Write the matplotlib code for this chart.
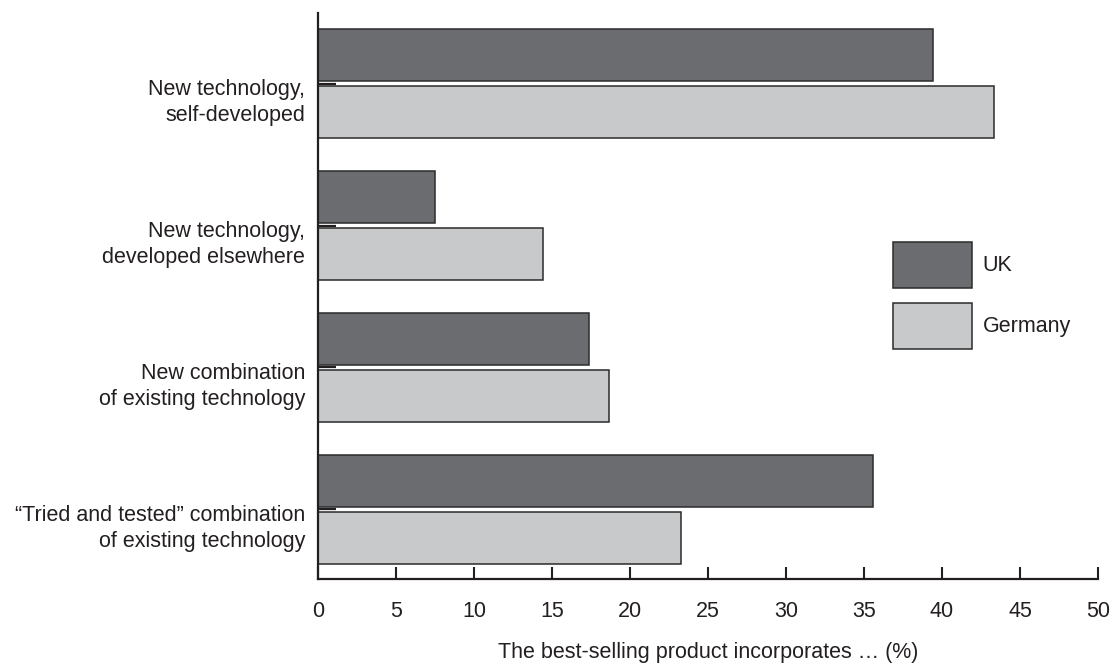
import matplotlib
matplotlib.use("Agg")
import matplotlib.pyplot as plt
import numpy as np

categories = [
    "New technology,\nself-developed",
    "New technology,\ndeveloped elsewhere",
    "New combination\nof existing technology",
    "\u201cTried and tested\u201d combination\nof existing technology",
]
uk = [39.4, 7.5, 17.4, 35.6]
germany = [43.35, 14.45, 18.65, 23.25]
series_names = ["UK", "Germany"]
xticks = [0, 5, 10, 15, 20, 25, 30, 35, 40, 45, 50]
xlabel = "The best-selling product incorporates \u2026 (%)"

plt.rcParams['font.family'] = ['Liberation Sans', 'DejaVu Sans']
text_color = "#231f20"
uk_color = "#6b6c70"
de_color = "#c8c9cb"
edge = "#2b2b2b"
fs = 15.5

fig = plt.figure(figsize=(11.12, 6.66), dpi=100)
ax = fig.add_axes([318/1112, 87/666, 780/1112, 566/666])

n = len(categories)
ypos = np.arange(n)[::-1].astype(float)
h = 52/142
off = 28.5/142
ax.barh(ypos + off, uk, height=h, color=uk_color, edgecolor=edge, linewidth=1.1, label=series_names[0], zorder=1)
ax.barh(ypos - off, germany, height=h, color=de_color, edgecolor=edge, linewidth=1.1, label=series_names[1], zorder=1)

ax.set_xlim(0, 50)
ax.set_ylim(-0.49, n - 1 + 0.497)
ax.set_xticks(xticks)
ax.set_xticklabels([str(t) for t in xticks], fontsize=fs, color=text_color)
ax.set_yticks(ypos)
ax.set_yticklabels([])
ax.tick_params(axis='x', direction='in', length=8.5, width=1.5, pad=16, color=text_color)
ax.tick_params(axis='y', direction='in', length=13, width=1.6, color=text_color)

for s in ['top', 'right']:
    ax.spines[s].set_visible(False)
for s in ['left', 'bottom']:
    ax.spines[s].set_linewidth(1.6)
    ax.spines[s].set_color(text_color)

lab_off = 19/142
for y, c in zip(ypos, categories):
    ax.text(-13/780*50, y - lab_off, c, ha='right', va='center', fontsize=fs,
            color=text_color, linespacing=1.3, transform=ax.transData)

ax.set_xlabel(xlabel, fontsize=fs, color=text_color, labelpad=14)

leg = ax.legend(loc='upper left', bbox_to_anchor=((893-318)/780, (579-242)/566),
                frameon=False, fontsize=fs, handlelength=79/21.5, handleheight=2.91,
                labelspacing=0.7, handletextpad=0.5, borderpad=0, borderaxespad=0)
for t in leg.get_texts():
    t.set_color(text_color)

fig.savefig("out.png", dpi=100)
